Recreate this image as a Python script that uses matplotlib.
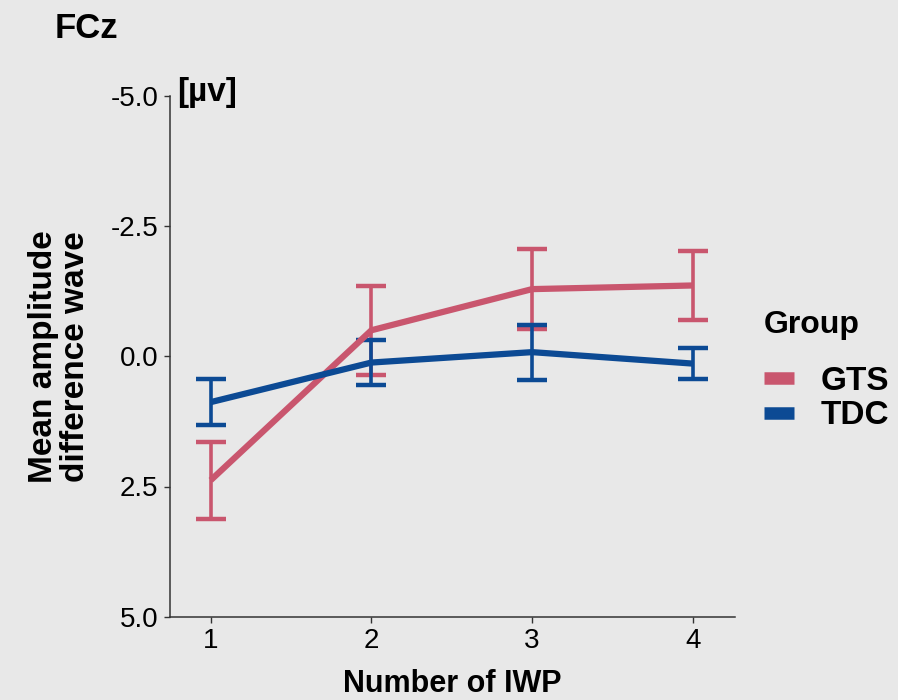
import matplotlib.pyplot as plt
from matplotlib.lines import Line2D

# values (y axis is inverted, negative up)
iwp = [1, 2, 3, 4]
gts_mean = [2.38, -0.50, -1.29, -1.36]
gts_err = [0.74, 0.85, 0.77, 0.67]
tdc_mean = [0.88, 0.12, -0.08, 0.14]
tdc_err = [0.44, 0.44, 0.53, 0.29]
groups = ['GTS', 'TDC']
colors = ['#c9566e', '#0c4a94']

bg = '#e8e8e8'
plt.rcParams['font.family'] = ['Liberation Sans', 'DejaVu Sans']

fig = plt.figure(figsize=(8.98, 7), dpi=100, facecolor=bg)
ax = fig.add_axes([0.189, 0.119, 0.629, 0.744], facecolor=bg)

for mean, err, col in [(gts_mean, gts_err, colors[0]), (tdc_mean, tdc_err, colors[1])]:
    ax.errorbar(iwp, mean, yerr=err, color=col, lw=4.5, elinewidth=2.6,
                capsize=11, capthick=3.2, solid_capstyle='butt')

ax.set_xlim(0.745, 4.26)
ax.set_ylim(5, -5)
ax.set_xticks(iwp)
ax.set_yticks([-5, -2.5, 0, 2.5, 5])
ax.set_yticklabels(['-5.0', '-2.5', '0.0', '2.5', '5.0'])
ax.tick_params(labelsize=20, length=4, width=1, pad=4, colors='#333333', labelcolor='black')
for s in ['top', 'right']:
    ax.spines[s].set_visible(False)
for s in ['left', 'bottom']:
    ax.spines[s].set_color('#333333')
    ax.spines[s].set_linewidth(1.1)

ax.set_xlabel('Number of IWP', fontsize=22, fontweight='bold', labelpad=11)
ax.set_ylabel('Mean amplitude\ndifference wave', fontsize=24, fontweight='bold',
              labelpad=14, linespacing=1.05)

fig.text(0.061, 0.96, 'FCz', fontsize=25, fontweight='bold', va='center')
fig.text(0.197, 0.868, '[µv]', fontsize=24, fontweight='bold', va='center')

handles = [Line2D([], [], color=c, lw=9, solid_capstyle='butt') for c in colors]
leg = fig.legend(handles, groups, title='Group', loc='center left',
                 bbox_to_anchor=(0.851, 0.47), frameon=False, fontsize=24,
                 handlelength=0.9, handletextpad=0.8, labelspacing=0.12,
                 borderpad=0, borderaxespad=0)
leg.get_title().set_fontsize(23)
leg.get_title().set_fontweight('bold')
leg._legend_box.align = 'left'
leg._legend_box.sep = 18
for t in leg.get_texts():
    t.set_fontweight('bold')

fig.savefig('out.png', dpi=100, facecolor=bg)
